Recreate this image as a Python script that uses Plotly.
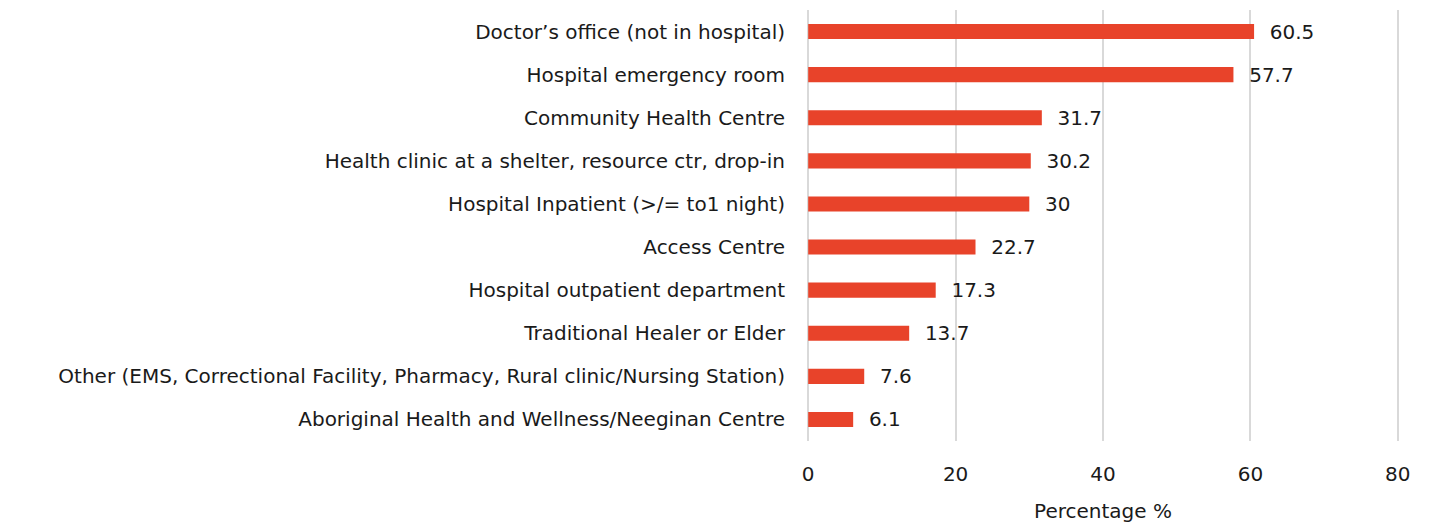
import plotly.graph_objects as go

categories = [
    "Doctor’s office (not in hospital)",
    "Hospital emergency room",
    "Community Health Centre",
    "Health clinic at a shelter, resource ctr, drop-in",
    "Hospital Inpatient (>/= to1 night)",
    "Access Centre",
    "Hospital outpatient department",
    "Traditional Healer or Elder",
    "Other (EMS, Correctional Facility, Pharmacy, Rural clinic/Nursing Station)",
    "Aboriginal Health and Wellness/Neeginan Centre",
]
values = [60.5, 57.7, 31.7, 30.2, 30, 22.7, 17.3, 13.7, 7.6, 6.1]
tick_vals = [0, 20, 40, 60, 80]

FONT = "DejaVu Sans"
TXT = "#1a1a1a"
FS = 20

fig = go.Figure(go.Bar(
    x=values,
    y=categories,
    orientation="h",
    marker=dict(color="#E8432A", line=dict(width=0)),
    text=["\u00a0\u00a0" + f"{v:g}" for v in values],
    textposition="outside",
    constraintext="none",
    textfont=dict(family=FONT, size=FS, color=TXT),
    cliponaxis=False,
))

# page has an 8px body margin, so margins are offset accordingly
fig.update_layout(
    width=1430, height=525,
    margin=dict(l=798, r=38, t=2, b=92, autoexpand=False),
    paper_bgcolor="white", plot_bgcolor="white",
    bargap=0.65,
    showlegend=False,
    font=dict(family=FONT, size=FS, color=TXT),
)
fig.update_xaxes(
    range=[-0.3, 80.3], tickvals=tick_vals,
    showgrid=True, gridcolor="#d9d9d9", gridwidth=2,
    zeroline=False, showline=False,
    automargin=False,
    ticklabelstandoff=19,
    tickfont=dict(family=FONT, size=FS, color=TXT),
    title=dict(text="Percentage %", font=dict(family=FONT, size=FS, color=TXT), standoff=18),
)
fig.update_yaxes(
    autorange="reversed",
    showgrid=False, zeroline=False, showline=False,
    automargin=False,
    ticklabelstandoff=20,
    tickfont=dict(family=FONT, size=FS, color=TXT),
)
fig.write_html("out.html")
